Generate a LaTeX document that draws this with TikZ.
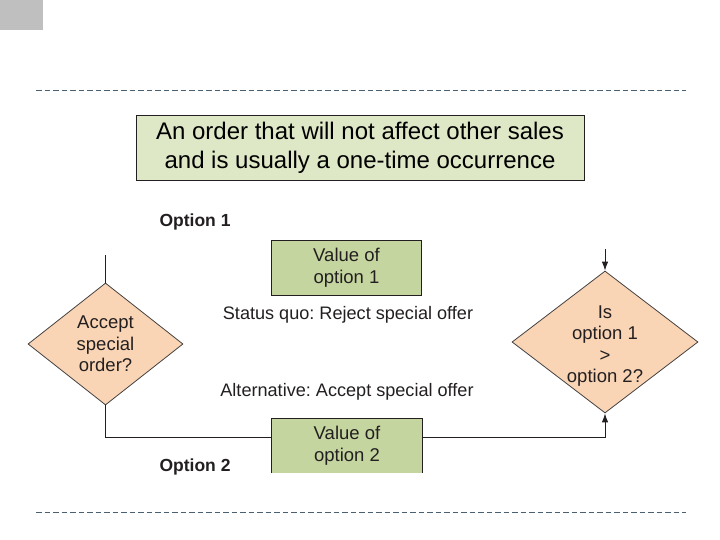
\documentclass[tikz,border=0pt]{standalone}
\usepackage{fontspec}
\setmainfont{Liberation Sans}
\usetikzlibrary{shapes.geometric,arrows.meta}
\definecolor{peach}{HTML}{FAD5B5}
\definecolor{boxgreen}{HTML}{C5D5A0}
\definecolor{topgreen}{HTML}{DEE7C6}
\definecolor{dashc}{HTML}{4A6070}
\definecolor{ink}{HTML}{231F20}
\tikzset{
  dia/.style={diamond, draw=ink!85, line width=0.8pt, fill=peach, inner sep=0pt},
  difftext/.style={align=center, text=ink, font=\fontsize{18.5}{21.5}\selectfont, inner sep=0pt},
  valbox/.style={draw=ink, line width=0.9pt, fill=boxgreen, minimum width=150pt, minimum height=55pt, inner sep=0pt, align=center, text=ink, font=\fontsize{18.5}{22}\selectfont},
  lbl/.style={text=ink, font=\fontsize{18.1}{21}\selectfont, inner sep=0pt},
  optlbl/.style={text=ink, font=\bfseries\fontsize{17.5}{20}\selectfont, inner sep=0pt},
  conn/.style={draw=ink, line width=0.9pt},
  arr/.style={conn, -{Latex[length=9pt,width=6.5pt]}},
  dashline/.style={draw=dashc, line width=0.9pt, dash pattern=on 5.5pt off 3pt}
}
\frenchspacing
\begin{document}
\begin{tikzpicture}[x=1pt,y=-1pt]
\useasboundingbox (0,0) rectangle (720,540);
% grey corner square
\fill[gray!50] (0,0) rectangle (43,30);
% dashed rules
\coordinate (r1a) at (36,90); \coordinate (r1b) at (686,90);
\coordinate (r2a) at (36,512); \coordinate (r2b) at (686,512);
\draw[dashline] (r1a) -- (r1b);
\draw[dashline] (r2a) -- (r2b);
% title box
\node[draw=ink, line width=0.9pt, fill=topgreen, minimum width=448pt, minimum height=65pt, inner sep=0pt, align=center, font=\fontsize{24}{29}\selectfont] (title) at (360,148) {An order that will not affect other sales\\and is usually a one-time occurrence};
% left diamond
\node[dia, minimum width=155pt, minimum height=122pt] (d1) at (105.5,344) {};
\node[difftext] (d1t) at (d1.center) {Accept\\special\\order?};
% right diamond
\node[dia, minimum width=186pt, minimum height=142pt] (d2) at (605,342) {};
\node[difftext] (d2t) at ([yshift=-4pt]d2.center) {Is\\option 1\\>\\option 2?};
% value boxes
\node[valbox] (v1) at (346.5,267.5) {Value of\\option 1};
\node[valbox, draw=none, minimum height=54pt] (v2) at (347,446) {Value of\\option 2};
\draw[draw=ink, line width=0.9pt] (v2.south west) -- (v2.north west) -- (v2.north east) -- (v2.south east);
% labels
\node[lbl] (sq) at (348,315) {Status quo: Reject special offer};
\node[lbl] (alt) at (347,392) {Alternative: Accept special offer};
\node[optlbl] (o1) at (195,222) {Option 1};
\node[optlbl] (o2) at (195,467) {Option 2};
% connectors
\coordinate (topstub) at (105.5,255);
\draw[conn] (topstub) -- (d1.north);
\coordinate (bendL) at (105.5,437);
\draw[conn] (d1.south) -- (bendL) -- (v2.west |- bendL);
\coordinate (bendR) at (605,437);
\draw[arr] (v2.east |- bendR) -- (bendR) -- (d2.south);
\coordinate (arrtop) at (605,249);
\draw[arr] (arrtop) -- (d2.north);
\end{tikzpicture}
\end{document}
